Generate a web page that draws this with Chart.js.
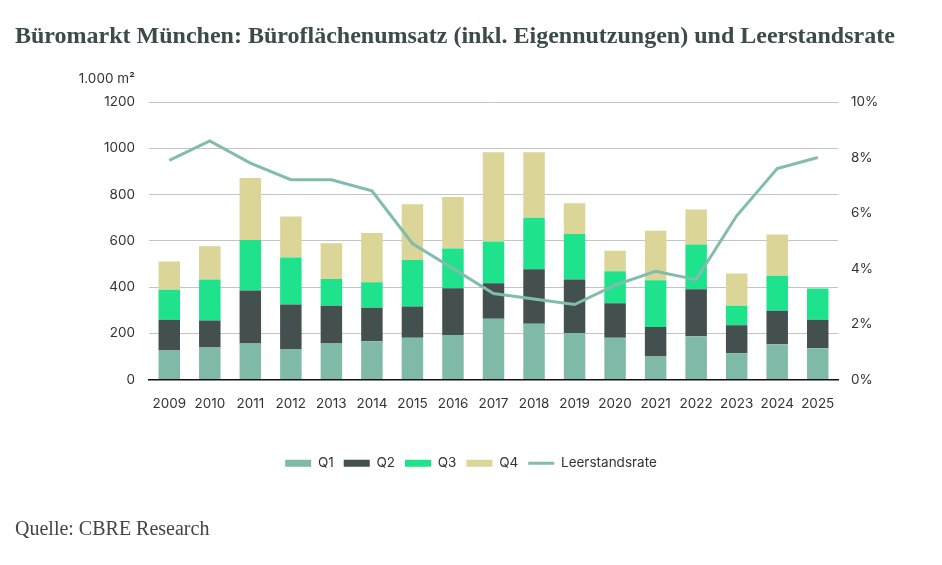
<!DOCTYPE html>
<html>
<head>
<meta charset="utf-8">
<script src="https://cdn.jsdelivr.net/npm/chart.js@4"></script>
<style>
  body { margin: 0; background: #fff; }
  #wrap { position: relative; width: 942px; height: 565px; }
  #title { position: absolute; left: 15px; top: 22px; font: bold 24px "Liberation Serif", serif; color: #3b4a4a; white-space: nowrap; }
  #source { position: absolute; left: 15px; top: 517px; font: 20px "Liberation Serif", serif; color: #444; }
  #chartBox { position: absolute; left: 0; top: 0; width: 942px; height: 565px; }
</style>
</head>
<body>
<div id="wrap">
  <div id="chartBox"><canvas id="officeChart"></canvas></div>
  <div id="title">Büromarkt München: Büroflächenumsatz (inkl. Eigennutzungen) und Leerstandsrate</div>
  <div id="source">Quelle: CBRE Research</div>
</div>
<script>
const years = ['2009', '2010', '2011', '2012', '2013', '2014', '2015', '2016', '2017',
    '2018', '2019', '2020', '2021', '2022', '2023', '2024', '2025'];
// Flächenumsatz je Quartal, 1.000 m²
const q1 = [125, 138, 156, 132, 156, 165, 181, 192, 263, 241, 201, 181, 99, 187, 113, 152, 135];
const q2 = [133, 117, 229, 192, 163, 145, 135, 203, 153, 236, 231, 149, 128, 203, 122, 145, 123];
const q3 = [130, 177, 218, 204, 116, 111, 201, 172, 181, 223, 197, 138, 202, 194, 84, 152, 135];
const q4 = [122, 144, 268, 177, 154, 212, 241, 222, 386, 283, 133, 89, 214, 151, 139, 178, null];
// Leerstandsrate in %
const vacancy = [7.9, 8.6, 7.8, 7.2, 7.2, 6.8, 4.9, 4.0, 3.1, 2.9, 2.7, 3.4, 3.9, 3.6, 5.9, 7.6, 8.0];

const font = 'Inter, "Noto Sans", sans-serif';

// draws the unit label above the left axis
const unitLabel = {
    id: 'unitLabel',
    afterDraw(chart) {
        const c = chart.ctx;
        c.save();
        c.font = '13.5px ' + font;
        c.fillStyle = '#333';
        c.textAlign = 'right';
        c.textBaseline = 'middle';
        c.fillText('1.000 m²', 135, 79);
        c.restore();
    }
};

const barSet = (label, values, color) => ({
    type: 'bar',
    label: label,
    data: values,
    backgroundColor: color,
    borderWidth: 0,
    pointStyle: 'rect',
    yAxisID: 'y',
    stack: 'umsatz',
    order: 2,
    barPercentage: 0.53,
    categoryPercentage: 1
});

const ctx = document.getElementById('officeChart').getContext('2d');
new Chart(ctx, {
    data: {
        labels: years,
        datasets: [
            barSet('Q1', q1, '#7fbaa9'),
            barSet('Q2', q2, '#43504f'),
            barSet('Q3', q3, '#1ee28c'),
            barSet('Q4', q4, '#dbd598'),
            {
                type: 'line',
                label: 'Leerstandsrate',
                data: vacancy,
                borderColor: '#82bcad',
                backgroundColor: '#82bcad',
                borderWidth: 3,
                pointRadius: 0,
                pointStyle: 'line',
                tension: 0,
                yAxisID: 'y2',
                order: 1
            }
        ]
    },
    options: {
        responsive: true,
        maintainAspectRatio: false,
        animation: false,
        layout: { padding: { top: 102, bottom: 85, left: 0, right: 0 } },
        plugins: {
            legend: {
                position: 'bottom',
                labels: {
                    usePointStyle: true,
                    pointStyleWidth: 26,
                    boxWidth: 26,
                    boxHeight: 7,
                    padding: 10,
                    color: '#333',
                    font: { family: font, size: 13.5 },
                    sort: (a, b) => a.datasetIndex - b.datasetIndex
                }
            },
            tooltip: { enabled: false }
        },
        scales: {
            x: {
                stacked: true,
                grid: { display: false },
                border: { color: '#111', width: 1.5 },
                ticks: { color: '#333', font: { family: font, size: 13.5 }, padding: 8, maxRotation: 0, autoSkip: false },
                afterFit(scale) { scale.height = 67; }
            },
            y: {
                stacked: true,
                position: 'left',
                min: 0,
                max: 1200,
                ticks: { stepSize: 200, color: '#333', font: { family: font, size: 13.5 }, padding: 14, callback: v => String(v) },
                grid: { color: '#c4c4c4', lineWidth: 1, drawTicks: false },
                border: { display: false },
                afterFit(scale) { scale.width = 149; }
            },
            y2: {
                position: 'right',
                min: 0,
                max: 10,
                ticks: {
                    stepSize: 2,
                    color: '#333',
                    font: { family: font, size: 13.5 },
                    padding: 13,
                    callback: v => v + '%'
                },
                grid: { display: false, drawTicks: false },
                border: { display: false },
                afterFit(scale) { scale.width = 104; }
            }
        }
    },
    plugins: [unitLabel]
});
</script>
</body>
</html>
